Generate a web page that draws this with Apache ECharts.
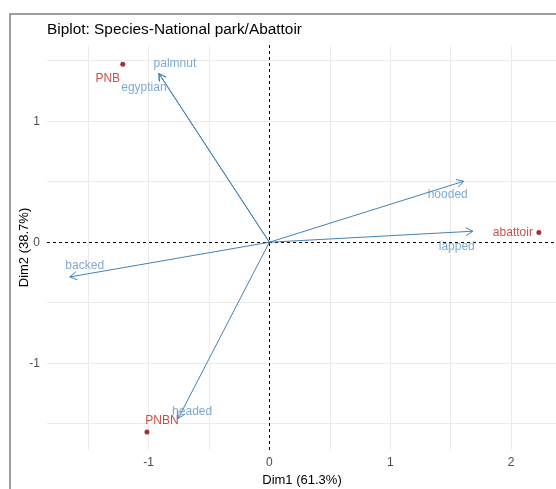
<!DOCTYPE html>
<html>
<head>
<meta charset="utf-8">
<script src="https://cdn.jsdelivr.net/npm/echarts@6/dist/echarts.min.js"></script>
<style>html,body{margin:0;padding:0;background:#fff}#c{width:556px;height:489px}</style>
</head>
<body>
<div id="c"></div>
<script>
// ---- data ----
const indNames = ['PNB', 'abattoir', 'PNBN'];
const indX = [-1.213, 2.23, -1.013];
const indY = [1.471, 0.08, -1.568];

const varNames = ['palmnut', 'egyptian', 'hooded', 'lapped', 'backed', 'headed'];
const varX = [-0.914, -0.914, 1.608, 1.683, -1.652, -0.755];
const varY = [1.394, 1.394, 0.504, 0.091, -0.287, -1.457];

const xTicks = [-1, 0, 1, 2];
const yTicks = [-1, 0, 1];
const xGrid = [-1.5, -1, -0.5, 0.5, 1, 1.5, 2];
const yGrid = [-1.5, -1, -0.5, 0.5, 1, 1.5];

// label offsets (pixels) – styling only
const indLabelOffset = [[-15, 14], [-26, 0], [15, -11]];
const varLabelOffset = [[16, -10], [-15, 14], [-16, 13], [-16, 15], [15, -11], [14, -7]];

const VAR_COL = '#4682B4';
const VAR_TXT = '#5e93cc';
const IND_COL = '#8B0000';
const IND_TXT = '#b3261e';

const chart = echarts.init(document.getElementById('c'), null, {renderer: 'canvas'});

const gridLineStyle = {color: '#ebebeb', width: 1, type: 'solid'};

const gridMarks = [];
xGrid.forEach(v => gridMarks.push({xAxis: v, lineStyle: gridLineStyle}));
yGrid.forEach(v => gridMarks.push({yAxis: v, lineStyle: gridLineStyle}));
const zeroMarks = [
  {xAxis: 0, lineStyle: {color: '#000', width: 1, type: [3, 3]}},
  {yAxis: 0, lineStyle: {color: '#000', width: 1, type: [3, 3]}}
];

const arrowData = varNames.map((n, i) => [varX[i], varY[i], n]);

const option = {
  animation: false,
  backgroundColor: '#fff',
  textStyle: {fontFamily: 'Liberation Sans, Arial, sans-serif'},
  title: {
    text: 'Biplot: Species-National park/Abattoir',
    left: 42, top: 17,
    textStyle: {fontSize: 15.4, fontWeight: 'normal', color: '#000', fontFamily: 'Liberation Sans, Arial, sans-serif'}
  },
  graphic: [{
    type: 'rect', x: 0, y: 0, silent: true, z: 100,
    shape: {x: 10, y: 14, width: 600, height: 600},
    style: {fill: 'none', stroke: '#7f7f7f', lineWidth: 1.5}
  }],
  grid: {left: 47, right: -1, top: 45, bottom: 39, containLabel: false, outerBoundsMode: 'none'},
  xAxis: {
    type: 'value', min: -1.84, max: 2.38,
    name: 'Dim1 (61.3%)', nameLocation: 'middle', nameGap: 24, nameMoveOverlap: false,
    nameTextStyle: {fontSize: 13, color: '#000', verticalAlign: 'top'},
    axisLine: {show: false},
    axisTick: {show: true, customValues: xTicks, length: 3, lineStyle: {color: '#333'}},
    axisLabel: {customValues: xTicks, fontSize: 12, color: '#4d4d4d', margin: 7},
    splitLine: {show: false}
  },
  yAxis: {
    type: 'value', min: -1.717, max: 1.63,
    name: 'Dim2 (38.7%)', nameLocation: 'middle', nameGap: 16, nameRotate: 90, nameMoveOverlap: false,
    nameTextStyle: {fontSize: 13, color: '#000'},
    axisLine: {show: false},
    axisTick: {show: true, customValues: yTicks, length: 3, lineStyle: {color: '#333'}},
    axisLabel: {customValues: yTicks, fontSize: 12, color: '#4d4d4d', margin: 7},
    splitLine: {show: false}
  },
  series: [
    {
      type: 'scatter', data: [], silent: true, z: 1,
      markLine: {silent: true, symbol: 'none', label: {show: false}, animation: false, data: gridMarks}
    },
    {
      type: 'scatter', data: [], silent: true, z: 2,
      markLine: {silent: true, symbol: 'none', label: {show: false}, animation: false, data: zeroMarks}
    },
    {
      type: 'custom', z: 5, silent: true,
      data: arrowData,
      renderItem: function (params, api) {
        const o = api.coord([0, 0]);
        const e = api.coord([api.value(0), api.value(1)]);
        const ang = Math.atan2(e[1] - o[1], e[0] - o[0]);
        const L = 8, a = Math.PI / 6;
        const p1 = [e[0] - L * Math.cos(ang - a), e[1] - L * Math.sin(ang - a)];
        const p2 = [e[0] - L * Math.cos(ang + a), e[1] - L * Math.sin(ang + a)];
        const st = {stroke: VAR_COL, lineWidth: 1, fill: 'none'};
        return {
          type: 'group',
          children: [
            {type: 'line', shape: {x1: o[0], y1: o[1], x2: e[0], y2: e[1]}, style: st},
            {type: 'polyline', shape: {points: [p1, e, p2]}, style: st}
          ]
        };
      }
    },
    {
      type: 'scatter', z: 6, silent: true,
      symbolSize: 0,
      data: varNames.map((n, i) => ({
        value: [varX[i], varY[i]],
        label: {show: true, formatter: n, position: 'inside', offset: varLabelOffset[i],
          fontSize: 12, color: VAR_TXT}
      }))
    },
    {
      type: 'scatter', z: 7, silent: true,
      symbol: 'circle', symbolSize: 5,
      itemStyle: {color: IND_COL},
      data: indNames.map((n, i) => ({
        value: [indX[i], indY[i]],
        label: {show: true, formatter: n, position: 'inside', offset: indLabelOffset[i],
          fontSize: 12, color: IND_TXT}
      }))
    }
  ]
};
chart.setOption(option);
</script>
</body>
</html>
